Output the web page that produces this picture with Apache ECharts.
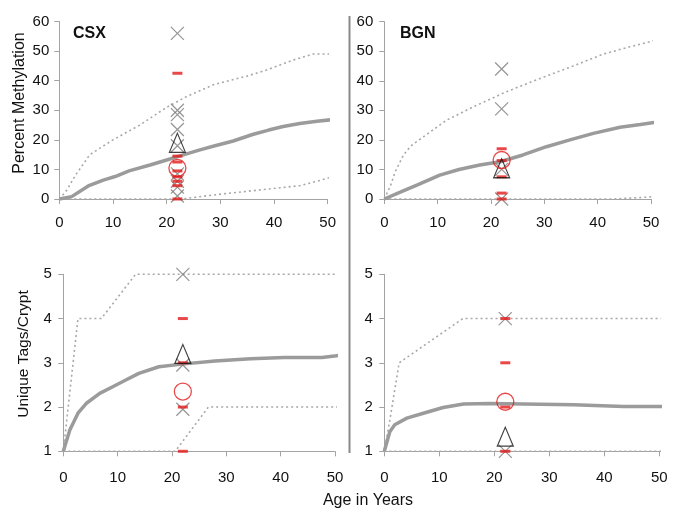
<!DOCTYPE html>
<html>
<head>
<meta charset="utf-8">
<script src="https://cdn.jsdelivr.net/npm/echarts@6/dist/echarts.min.js"></script>
<style>
html,body{margin:0;padding:0;background:#fff;}
#chart{width:685px;height:522px;}
</style>
</head>
<body>
<div id="chart"></div>
<script>
// ---------- data ----------
const ageTicks = [0, 10, 20, 30, 40, 50];
const methTicks = [0, 10, 20, 30, 40, 50, 60];
const tagTicks = [1, 2, 3, 4, 5];
const panelNames = ['CSX', 'BGN'];
const sampleAge = 22;

// CSX percent methylation simulation
const csxMethMeanAge = [0, 2.3, 5.4, 8.2, 10.4, 13, 16.9, 20, 23.1, 26.2, 29, 32.4, 36, 39, 41.7, 44.8, 48, 51.8];
const csxMethMeanVal = [0, 0.8, 4.4, 6.4, 7.6, 9.5, 11.5, 13.2, 14.9, 16.6, 18, 19.6, 21.8, 23.3, 24.5, 25.5, 26.3, 27];
const csxMethUpperAge = [0, 1.4, 3, 5.7, 10, 15, 20, 23.7, 28.7, 34.9, 38.6, 43.6, 47.3, 51.8];
const csxMethUpperVal = [0, 3, 8, 15, 20, 25, 31, 34.6, 38.6, 41.5, 43.6, 47, 49, 49];
const csxMethLowerAge = [0, 22, 23.7, 28, 32.4, 38.6, 44.8, 48, 51.8];
const csxMethLowerVal = [0, 0, 0.2, 1.2, 2.1, 3.3, 4.5, 6, 8];
// CSX observed
const csxMethCross = [56, 30, 28.5, 23.5, 18, 8.5, 6, 4, 1];
const csxMethDash = [42.5, 14.5, 12.5, 9.5, 7.5, 6, 4.5, 0];
const csxMethTriangle = [19];
const csxMethCircle = [10.5];

// BGN percent methylation simulation
const bgnMethMeanAge = [0, 3, 6.1, 10.4, 14, 17.9, 21.7, 26, 30.4, 34.8, 39.2, 44.2, 48, 52];
const bgnMethMeanVal = [0, 2.3, 4.7, 8.1, 10, 11.5, 12.6, 14.9, 17.7, 20, 22.2, 24.3, 25.2, 26.3];
const bgnMethUpperAge = [0, 1.1, 2, 3.6, 5, 7.3, 11.7, 16.7, 22.9, 29.2, 35.4, 41, 46, 52];
const bgnMethUpperVal = [0, 4.2, 9, 14.9, 18, 21, 26.7, 31.2, 36.3, 40.8, 45, 49, 51.5, 54.3];
const bgnMethLowerAge = [0, 43, 46, 49, 52];
const bgnMethLowerVal = [0, 0, 0.3, 0.6, 1];
// BGN observed
const bgnMethCross = [44, 30.5, 10, 0];
const bgnMethDash = [17, 13, 7.5, 2, 0];
const bgnMethTriangle = [10.4];
const bgnMethCircle = [13.2];

// CSX unique tags/crypt simulation
const csxTagMeanAge = [0, 1.2, 2.7, 4.2, 6.7, 9.1, 11.5, 13.9, 17.6, 21.8, 27.9, 34.5, 40.6, 47.6, 50.3, 52];
const csxTagMeanVal = [1, 1.48, 1.86, 2.08, 2.31, 2.46, 2.61, 2.76, 2.91, 2.97, 3.04, 3.09, 3.12, 3.12, 3.16, 3.2];
const csxTagUpperAge = [0, 2.7, 7, 13.3, 52];
const csxTagUpperVal = [1, 4, 4, 5, 5];
const csxTagLowerAge = [0, 20.6, 26.7, 52];
const csxTagLowerVal = [1, 1, 2, 2];
// CSX observed
const csxTagCross = [5, 2.95, 1.95];
const csxTagDash = [4, 3, 2, 1];
const csxTagTriangle = [3.2];
const csxTagCircle = [2.35];

// BGN unique tags/crypt simulation
const bgnTagMeanAge = [0, 1, 1.9, 4.1, 7.1, 10.7, 14.4, 19.2, 25.3, 34.4, 43.5, 51.6];
const bgnTagMeanVal = [1, 1.44, 1.6, 1.75, 1.86, 1.99, 2.07, 2.08, 2.07, 2.05, 2.01, 2.01];
const bgnTagUpperAge = [0, 1, 2.7, 14.3, 51.6];
const bgnTagUpperVal = [1, 1.7, 3, 4, 4];
const bgnTagLowerAge = [0, 51.6];
const bgnTagLowerVal = [1, 1];
// BGN observed
const bgnTagCross = [4, 1];
const bgnTagDash = [4, 3, 2, 1];
const bgnTagTriangle = [1.33];
const bgnTagCircle = [2.12];

// ---------- styling / helpers ----------
const FONT = '"Liberation Sans", Arial, sans-serif';
const AXIS_GRAY = '#a3a3a3';
const LINE_GRAY = '#9b9b9b';
const RED = '#e31a1c';

function pairs(xs, ys) { return xs.map((x, i) => [x, ys[i]]); }
function atAge(vals) { return vals.map(v => [sampleAge, v]); }

const grids = [
  { left: 59.3, top: 21.5, width: 268.4, height: 177.5 },
  { left: 384.3, top: 21.7, width: 266.7, height: 177.3 },
  { left: 63.3, top: 274.3, width: 271.7, height: 177 },
  { left: 384.3, top: 274.3, width: 275, height: 177 }
];

function xAxisFor(i, margin) {
  return {
    gridIndex: i, type: 'value', min: 0, max: 50, interval: 10,
    axisLine: { lineStyle: { color: AXIS_GRAY, width: 1 } },
    axisTick: { show: true, inside: false, length: 5, lineStyle: { color: AXIS_GRAY } },
    axisLabel: { color: '#111', fontSize: 15, fontFamily: FONT, margin: margin,
      customValues: ageTicks },
    splitLine: { show: false }
  };
}
function yAxisFor(i, ticks, margin) {
  return {
    gridIndex: i, type: 'value', min: ticks[0], max: ticks[ticks.length - 1], interval: 1 * (ticks[1] - ticks[0]),
    axisLine: { show: true, lineStyle: { color: AXIS_GRAY, width: 1 } },
    axisTick: { show: true, inside: false, length: 5, lineStyle: { color: AXIS_GRAY } },
    axisLabel: { color: '#111', fontSize: 15, fontFamily: FONT, margin: margin },
    splitLine: { show: false }
  };
}

function lineSeries(i, xs, ys, kind) {
  const style = kind === 'mean'
    ? { color: LINE_GRAY, width: 3.5, type: 'solid' }
    : { color: '#a8a8a8', width: 1.6, type: [2, 3] };
  return {
    type: 'line', xAxisIndex: i, yAxisIndex: i, data: pairs(xs, ys),
    showSymbol: false, symbol: 'none', clip: false, silent: true,
    lineStyle: style, z: 2
  };
}
const CROSS = 'path://M0,0L10,10M10,0L0,10';
function markerSeries(i, cross, dash, tri, circ) {
  return [
    { type: 'scatter', xAxisIndex: i, yAxisIndex: i, data: atAge(cross), symbol: CROSS, symbolSize: 13,
      clip: false, silent: true, z: 3,
      itemStyle: { color: 'none', borderColor: '#7a7a7a', borderWidth: 1.2 } },
    { type: 'scatter', xAxisIndex: i, yAxisIndex: i, data: atAge(dash), symbol: 'rect', symbolSize: [10, 3],
      clip: false, silent: true, z: 4, itemStyle: { color: RED } },
    { type: 'scatter', xAxisIndex: i, yAxisIndex: i, data: atAge(tri), symbol: 'triangle', symbolSize: [16, 19],
      clip: false, silent: true, z: 5,
      itemStyle: { color: 'none', borderColor: '#111', borderWidth: 1.2 } },
    { type: 'scatter', xAxisIndex: i, yAxisIndex: i, data: atAge(circ), symbol: 'circle', symbolSize: 17,
      clip: false, silent: true, z: 5,
      itemStyle: { color: 'none', borderColor: RED, borderWidth: 1.3 } }
  ];
}

const series = [
  lineSeries(0, csxMethLowerAge, csxMethLowerVal, 'band'),
  lineSeries(0, csxMethUpperAge, csxMethUpperVal, 'band'),
  lineSeries(0, csxMethMeanAge, csxMethMeanVal, 'mean'),
  ...markerSeries(0, csxMethCross, csxMethDash, csxMethTriangle, csxMethCircle),

  lineSeries(1, bgnMethLowerAge, bgnMethLowerVal, 'band'),
  lineSeries(1, bgnMethUpperAge, bgnMethUpperVal, 'band'),
  lineSeries(1, bgnMethMeanAge, bgnMethMeanVal, 'mean'),
  ...markerSeries(1, bgnMethCross, bgnMethDash, bgnMethTriangle, bgnMethCircle),

  lineSeries(2, csxTagLowerAge, csxTagLowerVal, 'band'),
  lineSeries(2, csxTagUpperAge, csxTagUpperVal, 'band'),
  lineSeries(2, csxTagMeanAge, csxTagMeanVal, 'mean'),
  ...markerSeries(2, csxTagCross, csxTagDash, csxTagTriangle, csxTagCircle),

  lineSeries(3, bgnTagLowerAge, bgnTagLowerVal, 'band'),
  lineSeries(3, bgnTagUpperAge, bgnTagUpperVal, 'band'),
  lineSeries(3, bgnTagMeanAge, bgnTagMeanVal, 'mean'),
  ...markerSeries(3, bgnTagCross, bgnTagDash, bgnTagTriangle, bgnTagCircle)
];

const chart = echarts.init(document.getElementById('chart'), null, { renderer: 'canvas' });
chart.setOption({
  animation: false,
  backgroundColor: '#ffffff',
  grid: grids,
  xAxis: [xAxisFor(0, 16), xAxisFor(1, 16), xAxisFor(2, 19), xAxisFor(3, 19)],
  yAxis: [yAxisFor(0, methTicks, 10), yAxisFor(1, methTicks, 11),
          yAxisFor(2, tagTicks, 11.5), yAxisFor(3, tagTicks, 11.5)],
  series: series,
  graphic: [
    { type: 'line', shape: { x1: 349.5, y1: 16, x2: 349.5, y2: 453 },
      style: { stroke: '#8a8a8a', lineWidth: 2 }, silent: true, z: 10 },
    { type: 'text', left: 73, top: 26,
      style: { text: panelNames[0], font: 'bold 16px ' + FONT, fill: '#111' } },
    { type: 'text', left: 400, top: 26,
      style: { text: panelNames[1], font: 'bold 16px ' + FONT, fill: '#111' } },
    { type: 'text', x: 19.5, y: 103, rotation: Math.PI / 2,
      style: { text: 'Percent Methylation', font: '16px ' + FONT, fill: '#111',
        textAlign: 'center', textVerticalAlign: 'middle', align: 'center', verticalAlign: 'middle' } },
    { type: 'text', x: 24, y: 354, rotation: Math.PI / 2,
      style: { text: 'Unique Tags/Crypt', font: '15.5px ' + FONT, fill: '#111',
        textAlign: 'center', textVerticalAlign: 'middle', align: 'center', verticalAlign: 'middle' } },
    { type: 'text', x: 368, y: 501,
      style: { text: 'Age in Years', font: '16px ' + FONT, fill: '#111',
        textAlign: 'center', textVerticalAlign: 'middle', align: 'center', verticalAlign: 'middle' } }
  ]
});
</script>
</body>
</html>
